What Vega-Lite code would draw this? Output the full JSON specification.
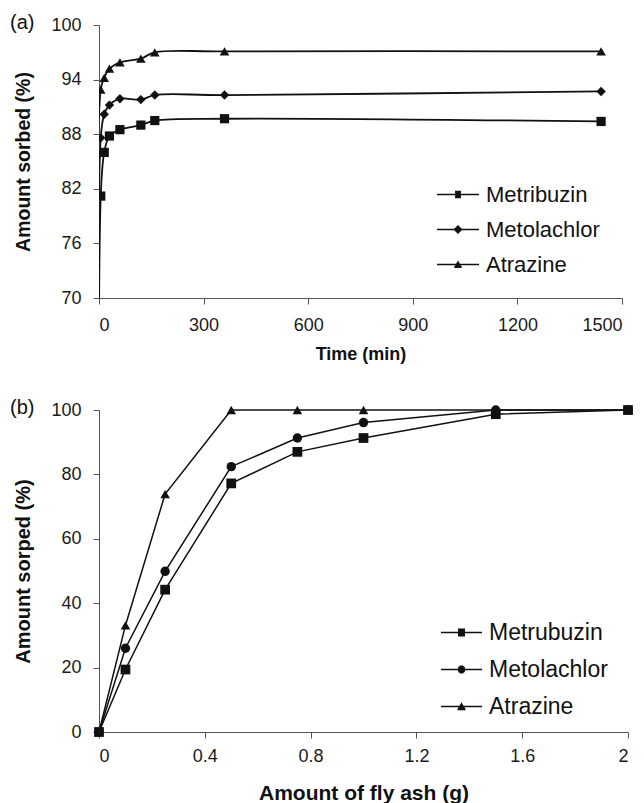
{
  "$schema": "https://vega.github.io/schema/vega-lite/v6.json",
  "background": "white",
  "padding": {"left": 10, "top": 13, "right": 10, "bottom": 0},
  "spacing": 34,
  "config": {
    "view": {"stroke": null},
    "axis": {
      "grid": false,
      "labelFont": "Liberation Sans",
      "labelFontSize": 18,
      "labelColor": "#1a1a1a",
      "titleFont": "Liberation Sans",
      "titleFontSize": 20,
      "titleFontWeight": "bold",
      "titleColor": "#111",
      "domainColor": "#555",
      "tickColor": "#555",
      "tickSize": 6,
      "labelPadding": 12
    }
  },
  "datasets": {
    "a": [
      {"t": 0, "value": 0, "compound": "Metribuzin"},
      {"t": 5, "value": 81.2, "compound": "Metribuzin"},
      {"t": 15, "value": 86.0, "compound": "Metribuzin"},
      {"t": 30, "value": 87.8, "compound": "Metribuzin"},
      {"t": 60, "value": 88.5, "compound": "Metribuzin"},
      {"t": 120, "value": 89.0, "compound": "Metribuzin"},
      {"t": 160, "value": 89.5, "compound": "Metribuzin"},
      {"t": 360, "value": 89.7, "compound": "Metribuzin"},
      {"t": 1440, "value": 89.4, "compound": "Metribuzin"},
      {"t": 0, "value": 0, "compound": "Metolachlor"},
      {"t": 5, "value": 87.6, "compound": "Metolachlor"},
      {"t": 15, "value": 90.2, "compound": "Metolachlor"},
      {"t": 30, "value": 91.2, "compound": "Metolachlor"},
      {"t": 60, "value": 91.9, "compound": "Metolachlor"},
      {"t": 120, "value": 91.8, "compound": "Metolachlor"},
      {"t": 160, "value": 92.3, "compound": "Metolachlor"},
      {"t": 360, "value": 92.3, "compound": "Metolachlor"},
      {"t": 1440, "value": 92.7, "compound": "Metolachlor"},
      {"t": 0, "value": 0, "compound": "Atrazine"},
      {"t": 5, "value": 92.9, "compound": "Atrazine"},
      {"t": 15, "value": 94.2, "compound": "Atrazine"},
      {"t": 30, "value": 95.2, "compound": "Atrazine"},
      {"t": 60, "value": 95.9, "compound": "Atrazine"},
      {"t": 120, "value": 96.3, "compound": "Atrazine"},
      {"t": 160, "value": 97.0, "compound": "Atrazine"},
      {"t": 360, "value": 97.1, "compound": "Atrazine"},
      {"t": 1440, "value": 97.1, "compound": "Atrazine"}
    ],
    "b": [
      {"g": 0, "value": 0, "compound": "Metrubuzin"},
      {"g": 0.1, "value": 19.4, "compound": "Metrubuzin"},
      {"g": 0.25, "value": 44.2, "compound": "Metrubuzin"},
      {"g": 0.5, "value": 77.2, "compound": "Metrubuzin"},
      {"g": 0.75, "value": 87.0, "compound": "Metrubuzin"},
      {"g": 1.0, "value": 91.3, "compound": "Metrubuzin"},
      {"g": 1.5, "value": 98.7, "compound": "Metrubuzin"},
      {"g": 2.0, "value": 100, "compound": "Metrubuzin"},
      {"g": 0, "value": 0, "compound": "Metolachlor"},
      {"g": 0.1, "value": 26.0, "compound": "Metolachlor"},
      {"g": 0.25, "value": 49.9, "compound": "Metolachlor"},
      {"g": 0.5, "value": 82.4, "compound": "Metolachlor"},
      {"g": 0.75, "value": 91.3, "compound": "Metolachlor"},
      {"g": 1.0, "value": 96.1, "compound": "Metolachlor"},
      {"g": 1.5, "value": 100, "compound": "Metolachlor"},
      {"g": 2.0, "value": 100, "compound": "Metolachlor"},
      {"g": 0, "value": 0, "compound": "Atrazine"},
      {"g": 0.1, "value": 33.1, "compound": "Atrazine"},
      {"g": 0.25, "value": 73.9, "compound": "Atrazine"},
      {"g": 0.5, "value": 100, "compound": "Atrazine"},
      {"g": 0.75, "value": 100, "compound": "Atrazine"},
      {"g": 1.0, "value": 100, "compound": "Atrazine"},
      {"g": 1.5, "value": 100, "compound": "Atrazine"},
      {"g": 2.0, "value": 100, "compound": "Atrazine"}
    ]
  },
  "vconcat": [
    {
      "width": 523,
      "height": 273,
      "title": {"text": "(a)", "anchor": "start", "frame": "group", "dx": -89, "baseline": "middle", "offset": 0, "dy": 27, "fontSize": 20, "fontWeight": "normal", "font": "Liberation Sans", "color": "#111"},
      "data": {"name": "a"},
      "encoding": {
        "x": {"field": "t", "type": "quantitative", "scale": {"domain": [0, 1500], "nice": false}, "axis": {"values": [0, 300, 600, 900, 1200, 1500], "format": "d", "title": "Time (min)", "titleFontSize": 18, "titlePadding": 11.5}},
        "y": {"field": "value", "type": "quantitative", "scale": {"domain": [70, 100], "nice": false, "zero": false}, "axis": {"values": [70, 76, 82, 88, 94, 100], "title": "Amount sorbed (%)", "titleFontSize": 19.5, "titlePadding": 17}}
      },
      "layer": [
        {
          "mark": {"type": "line", "interpolate": "catmull-rom", "clip": true, "color": "#111", "strokeWidth": 1.8},
          "encoding": {"detail": {"field": "compound"}}
        },
        {
          "mark": {"type": "point", "filled": true, "clip": true, "color": "#111", "opacity": 1},
          "encoding": {
            "shape": {"field": "compound", "type": "nominal", "scale": {"domain": ["Metribuzin", "Metolachlor", "Atrazine"], "range": ["square", "diamond", "triangle-up"]}, "legend": null},
            "size": {"field": "compound", "type": "nominal", "scale": {"domain": ["Metribuzin", "Metolachlor", "Atrazine"], "range": [85, 95, 115]}, "legend": null}
          }
        },
        {
          "mark": {"type": "point", "filled": false, "clip": true, "color": "#111", "strokeWidth": 1.5, "opacity": 0},
          "encoding": {
            "shape": {"field": "compound", "type": "nominal",
              "scale": {"domain": ["Metribuzin", "Metolachlor", "Atrazine"],
                "range": [
                  "M-1,0H1M-0.14,-0.14H0.14M-0.14,-0.1H0.14M-0.14,-0.06H0.14M-0.14,-0.02H0.14M-0.14,0.02H0.14M-0.14,0.06H0.14M-0.14,0.1H0.14M-0.14,0.14H0.14",
                  "M-1,0H1M-0.02,-0.18H0.02M-0.06,-0.14H0.06M-0.1,-0.1H0.1M-0.14,-0.06H0.14M-0.18,-0.02H0.18M-0.18,0.02H0.18M-0.14,0.06H0.14M-0.1,0.1H0.1M-0.06,0.14H0.06M-0.02,0.18H0.02",
                  "M-1,0H1M-0.015,-0.15H0.015M-0.036,-0.11H0.036M-0.059,-0.07H0.059M-0.083,-0.03H0.083M-0.107,0.01H0.107M-0.131,0.05H0.131M-0.154,0.09H0.154M-0.178,0.13H0.178"
                ]},
              "legend": {"orient": "none", "legendX": 337, "legendY": 147.5, "title": null, "padding": 0,
                "symbolSize": 1764, "symbolStrokeWidth": 1.5, "symbolStrokeColor": "#111", "symbolOpacity": 1,
                "labelFont": "Liberation Sans", "labelFontSize": 22, "labelColor": "#111", "rowPadding": 2, "labelOffset": 6,
                "encode": {"symbols": {"opacity": {"value": 1}, "stroke": {"value": "#111"}, "strokeWidth": {"value": 1.5}, "size": {"value": 1764}}}}
            }
          }
        }
      ],
      "resolve": {"scale": {"shape": "independent"}}
    },
    {
      "width": 529,
      "height": 322,
      "title": {"text": "(b)", "anchor": "start", "frame": "group", "dx": -89, "baseline": "middle", "offset": 0, "dy": 27, "fontSize": 20, "fontWeight": "normal", "font": "Liberation Sans", "color": "#111"},
      "data": {"name": "b"},
      "encoding": {
        "x": {"field": "g", "type": "quantitative", "scale": {"domain": [0, 2], "nice": false}, "axis": {"values": [0, 0.4, 0.8, 1.2, 1.6, 2], "format": "~g", "title": "Amount of fly ash (g)", "labelPadding": 9, "titlePadding": 17, "titleFontSize": 21}},
        "y": {"field": "value", "type": "quantitative", "scale": {"domain": [0, 100], "nice": false}, "axis": {"values": [0, 20, 40, 60, 80, 100], "title": "Amount sorped (%)", "titlePadding": 17}}
      },
      "layer": [
        {
          "mark": {"type": "line", "color": "#111", "strokeWidth": 1.5},
          "encoding": {"detail": {"field": "compound"}}
        },
        {
          "mark": {"type": "point", "filled": true, "color": "#111", "opacity": 1},
          "encoding": {
            "shape": {"field": "compound", "type": "nominal", "scale": {"domain": ["Metrubuzin", "Metolachlor", "Atrazine"], "range": ["square", "circle", "triangle-up"]}, "legend": null},
            "size": {"field": "compound", "type": "nominal", "scale": {"domain": ["Metrubuzin", "Metolachlor", "Atrazine"], "range": [64, 70, 100]}, "legend": null}
          }
        },
        {
          "mark": {"type": "point", "filled": false, "color": "#111", "strokeWidth": 1.5, "opacity": 0},
          "encoding": {
            "shape": {"field": "compound", "type": "nominal",
              "scale": {"domain": ["Metrubuzin", "Metolachlor", "Atrazine"],
                "range": [
                  "M-1,0H1M-0.17,-0.16H0.17M-0.17,-0.12H0.17M-0.17,-0.08H0.17M-0.17,-0.04H0.17M-0.17,0.04H0.17M-0.17,0.08H0.17M-0.17,0.12H0.17M-0.17,0.16H0.17",
                  "M-1,0H1M-0.082,-0.16H0.082M-0.134,-0.12H0.134M-0.161,-0.08H0.161M-0.175,-0.04H0.175M-0.175,0.04H0.175M-0.161,0.08H0.161M-0.134,0.12H0.134M-0.082,0.16H0.082",
                  "M-1,0H1M-0.015,-0.17H0.015M-0.035,-0.13H0.035M-0.058,-0.09H0.058M-0.082,-0.05H0.082M-0.105,-0.01H0.105M-0.128,0.03H0.128M-0.152,0.07H0.152M-0.175,0.11H0.175M-0.198,0.15H0.198"
                ]},
              "legend": {"orient": "none", "legendX": 341, "legendY": 201, "title": null, "padding": 0,
                "symbolSize": 1681, "symbolStrokeWidth": 1.5, "symbolStrokeColor": "#111", "symbolOpacity": 1,
                "labelFont": "Liberation Sans", "labelFontSize": 23, "labelColor": "#111", "rowPadding": 3, "labelOffset": 6,
                "encode": {"symbols": {"opacity": {"value": 1}, "stroke": {"value": "#111"}, "strokeWidth": {"value": 1.5}, "size": {"value": 1681}}}}
            }
          }
        }
      ],
      "resolve": {"scale": {"shape": "independent"}}
    }
  ]
}
